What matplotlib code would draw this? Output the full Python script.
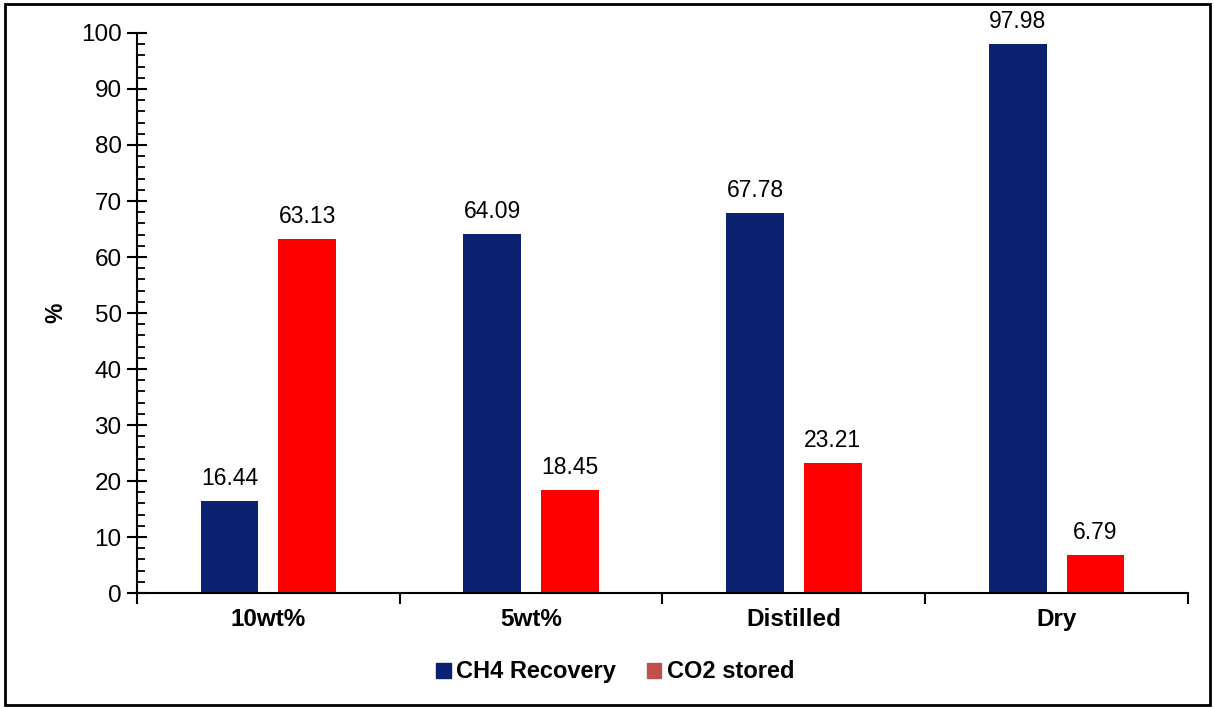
import numpy as np
import matplotlib.pyplot as plt
from matplotlib.patches import Patch, Rectangle

plt.rcParams['font.family'] = ['Liberation Sans', 'DejaVu Sans']

categories = ['10wt%', '5wt%', 'Distilled', 'Dry']
ch4_recovery = [16.44, 64.09, 67.78, 97.98]
co2_stored = [63.13, 18.45, 23.21, 6.79]

ch4_color = '#0A2270'
co2_color = '#FF0000'
co2_legend_color = '#C0504D'
fs = 16.5
tick_fs = 17.5

fig = plt.figure(figsize=(12.14, 7.08), dpi=100)
ax = fig.add_axes([0.1128, 0.1624, 0.8658, 0.791])

x = np.arange(len(categories))
w = 0.22
off = 0.148
b1 = ax.bar(x - off, ch4_recovery, w, color=ch4_color)
b2 = ax.bar(x + off, co2_stored, w, color=co2_color)

# value labels above each bar
for bars, vals in ((b1, ch4_recovery), (b2, co2_stored)):
    for b, v in zip(bars, vals):
        ax.annotate(f'{v:.2f}', (b.get_x() + b.get_width() / 2, v),
                    xytext=(0, 16), textcoords='offset pixels',
                    ha='center', va='baseline', fontsize=fs)

ax.set_xlim(-0.5, len(categories) - 0.5)
ax.set_ylim(0, 100)
ax.set_yticks(np.arange(0, 101, 10))
ax.set_yticks(np.arange(0, 101, 2), minor=True)
ax.tick_params(axis='y', which='major', direction='inout', length=14, width=1.5,
               labelsize=tick_fs, pad=4)
ax.tick_params(axis='y', which='minor', direction='in', length=6, width=1.3)

# category ticks sit between the groups, labels at the centres
ax.set_xticks(np.arange(-0.5, len(categories), 1))
ax.set_xticklabels([])
ax.set_xticks(x, minor=True)
ax.set_xticklabels(categories, minor=True, fontsize=tick_fs, fontweight='bold')
ax.tick_params(axis='x', which='major', direction='out', length=8, width=1.5)
ax.tick_params(axis='x', which='minor', length=0, pad=11)

for s in ('top', 'right'):
    ax.spines[s].set_visible(False)
for s in ('left', 'bottom'):
    ax.spines[s].set_linewidth(1.5)

ax.set_ylabel('%', fontsize=fs, fontweight='bold', labelpad=10)

handles = [Patch(color=ch4_color, label='CH4 Recovery'),
           Patch(color=co2_legend_color, label='CO2 stored')]
fig.legend(handles=handles, loc='center', bbox_to_anchor=(0.507, 0.051),
           ncol=2, frameon=False, prop={'size': 17, 'weight': 'bold'},
           handlelength=0.6, handleheight=0.6, handletextpad=0.25,
           columnspacing=1.3)

# surrounding frame
fig.patches.append(Rectangle((0.004, 0.004), 0.993, 0.991, transform=fig.transFigure,
                             fill=False, edgecolor='black', linewidth=2.0))

fig.savefig('out.png', dpi=100)
